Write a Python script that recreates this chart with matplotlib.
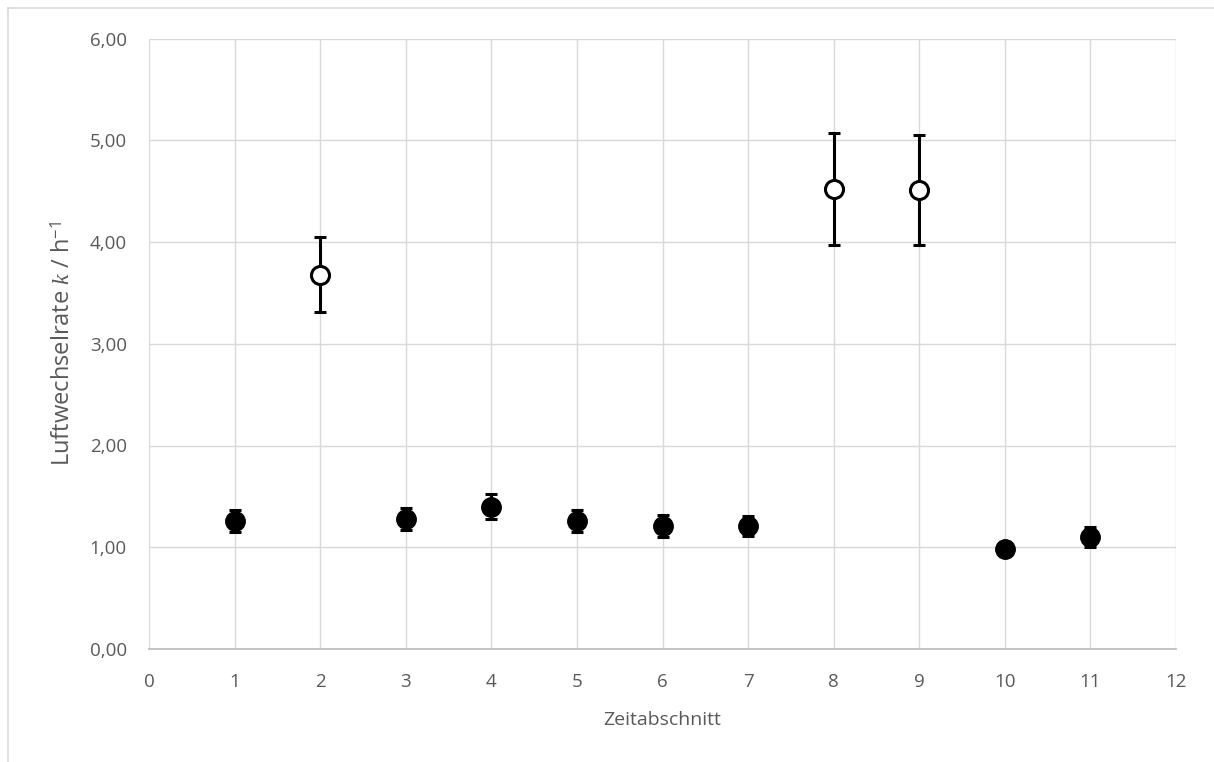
import matplotlib
matplotlib.use("Agg")
import matplotlib.pyplot as plt
from matplotlib.lines import Line2D
from matplotlib.ticker import FuncFormatter, MultipleLocator

# Data
x_filled = [1, 3, 4, 5, 6, 7, 10, 11]
y_filled = [1.26, 1.28, 1.40, 1.26, 1.21, 1.21, 0.98, 1.10]
err_filled = [0.11, 0.11, 0.12, 0.11, 0.11, 0.10, 0.05, 0.10]

x_open = [2, 8, 9]
y_open = [3.68, 4.52, 4.51]
err_open = [0.37, 0.55, 0.54]

x_label = "Zeitabschnitt"
y_label = r"Luftwechselrate $\mathit{k}$ / h$^{\mathrm{-1}}$"

plt.rcParams['font.family'] = ['Open Sans', 'DejaVu Sans']
plt.rcParams['mathtext.fontset'] = 'custom'
plt.rcParams['mathtext.rm'] = 'Open Sans'
plt.rcParams['mathtext.it'] = 'Liberation Serif:italic'

fig = plt.figure(figsize=(12.14, 7.62), dpi=100)
ax = fig.add_axes([149/1214, 1-649/762, (1176-149)/1214, (649-38.5)/762])

grey_txt = '#595959'
grid_c = '#d9d9d9'

ax.errorbar(x_filled, y_filled, yerr=err_filled, fmt='o', color='black',
            markersize=14, markerfacecolor='black', markeredgecolor='black',
            ecolor='black', elinewidth=2.2, capsize=4.5, capthick=2.2, zorder=3)
ax.errorbar(x_open, y_open, yerr=err_open, fmt='o', color='black',
            markersize=13, markerfacecolor='white', markeredgecolor='black',
            markeredgewidth=2.2,
            ecolor='black', elinewidth=2.2, capsize=4.5, capthick=2.2, zorder=3)

ax.set_xlim(0, 12)
ax.set_ylim(0, 6)
ax.xaxis.set_major_locator(MultipleLocator(1))
ax.yaxis.set_major_locator(MultipleLocator(1))
ax.yaxis.set_major_formatter(FuncFormatter(lambda v, p: f"{v:.2f}".replace('.', ',')))

ax.grid(True, color=grid_c, linewidth=1.0, zorder=0)
ax.set_axisbelow(True)
for s in ['top', 'right', 'left']:
    ax.spines[s].set_visible(False)
ax.spines['bottom'].set_color('#bfbfbf')
ax.spines['bottom'].set_linewidth(1.3)

ax.tick_params(axis='both', length=0, labelsize=13.5, labelcolor=grey_txt)
ax.tick_params(axis='x', pad=17)
ax.tick_params(axis='y', pad=16)

ax.set_xlabel(x_label, fontsize=14, color=grey_txt, labelpad=15)
ax.set_ylabel(y_label, fontsize=17, color=grey_txt, labelpad=10)

# chart border (top and left visible)
fig.add_artist(Line2D([8/1214, 8/1214], [0, 1-8/762], transform=fig.transFigure,
                      color='#d9d9d9', linewidth=1.2))
fig.add_artist(Line2D([8/1214, 1], [1-8/762, 1-8/762], transform=fig.transFigure,
                      color='#d9d9d9', linewidth=1.2))

fig.savefig("out.png", dpi=100, facecolor='white')
